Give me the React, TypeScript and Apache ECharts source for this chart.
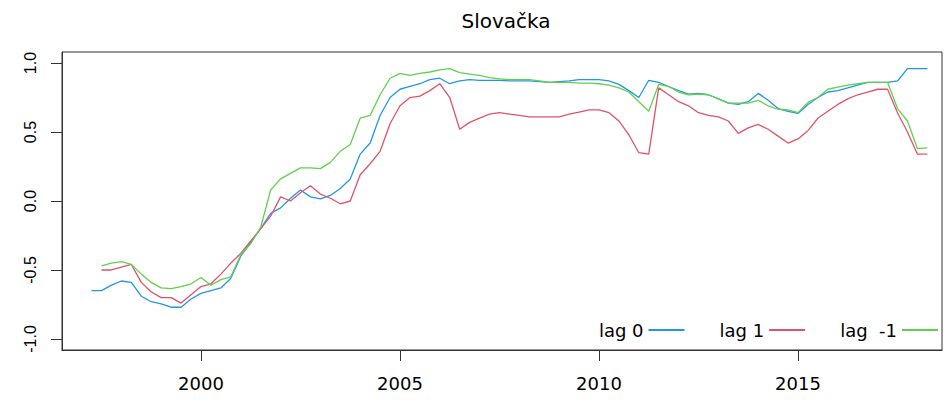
import React, { useEffect, useRef } from "react";
import * as echarts from "echarts";

const years = [
  1997.25, 1997.5, 1997.75, 1998.0, 1998.25, 1998.5, 1998.75, 1999.0, 1999.25, 1999.5, 1999.75,
  2000.0, 2000.25, 2000.5, 2000.75, 2001.0, 2001.25, 2001.5, 2001.75, 2002.0, 2002.25, 2002.5,
  2002.75, 2003.0, 2003.25, 2003.5, 2003.75, 2004.0, 2004.25, 2004.5, 2004.75, 2005.0, 2005.25,
  2005.5, 2005.75, 2006.0, 2006.25, 2006.5, 2006.75, 2007.0, 2007.25, 2007.5, 2007.75, 2008.0,
  2008.25, 2008.5, 2008.75, 2009.0, 2009.25, 2009.5, 2009.75, 2010.0, 2010.25, 2010.5, 2010.75,
  2011.0, 2011.25, 2011.5, 2011.75, 2012.0, 2012.25, 2012.5, 2012.75, 2013.0, 2013.25, 2013.5,
  2013.75, 2014.0, 2014.25, 2014.5, 2014.75, 2015.0, 2015.25, 2015.5, 2015.75, 2016.0, 2016.25,
  2016.5, 2016.75, 2017.0, 2017.25, 2017.5, 2017.75, 2018.0, 2018.25,
];

const lag0 = [
  -0.65, -0.65, -0.61, -0.58, -0.59, -0.69, -0.73, -0.745, -0.77, -0.77, -0.71,
  -0.67, -0.65, -0.63, -0.56, -0.4, -0.3, -0.2, -0.09, -0.05, 0.02, 0.08,
  0.03, 0.015, 0.04, 0.09, 0.16, 0.34, 0.42, 0.62, 0.75, 0.81, 0.83,
  0.85, 0.88, 0.89, 0.85, 0.87, 0.88, 0.875, 0.875, 0.875, 0.87, 0.87,
  0.87, 0.865, 0.86, 0.865, 0.87, 0.88, 0.88, 0.88, 0.87, 0.845, 0.8,
  0.75, 0.875, 0.86, 0.83, 0.8, 0.775, 0.78, 0.77, 0.74, 0.71, 0.7,
  0.72, 0.78, 0.73, 0.67, 0.65, 0.635, 0.7, 0.75, 0.79, 0.8, 0.82,
  0.84, 0.86, 0.86, 0.86, 0.87, 0.96, 0.96, 0.96,
];

const lag1 = [
  null, -0.5, -0.5, -0.48, -0.46, -0.59, -0.66, -0.7, -0.7, -0.74, -0.68,
  -0.62, -0.6, -0.53, -0.45, -0.38, -0.29, -0.2, -0.11, 0.03, 0.0, 0.06,
  0.11, 0.05, 0.02, -0.02, 0.0, 0.19, 0.27, 0.36, 0.56, 0.69, 0.75,
  0.76, 0.8, 0.85, 0.75, 0.52, 0.57, 0.6, 0.63, 0.64, 0.63, 0.62,
  0.61, 0.61, 0.61, 0.61, 0.63, 0.645, 0.66, 0.66, 0.64, 0.58, 0.48,
  0.35, 0.34, 0.82, 0.77, 0.72, 0.69, 0.64, 0.62, 0.61, 0.58, 0.49,
  0.53, 0.555, 0.52, 0.47, 0.42, 0.45, 0.51, 0.6, 0.65, 0.7, 0.74,
  0.77, 0.79, 0.81, 0.81, 0.64, 0.5, 0.34, 0.34,
];

const lagM1 = [
  null, -0.47, -0.45, -0.44, -0.46, -0.53, -0.59, -0.63, -0.635, -0.62, -0.6,
  -0.555, -0.61, -0.57, -0.55, -0.39, -0.31, -0.19, 0.08, 0.16, 0.2, 0.24,
  0.24, 0.235, 0.28, 0.36, 0.41, 0.6, 0.62, 0.77, 0.89, 0.925, 0.91,
  0.925, 0.935, 0.95, 0.96, 0.93, 0.92, 0.91, 0.895, 0.885, 0.88, 0.88,
  0.88, 0.87, 0.86, 0.86, 0.86, 0.855, 0.855, 0.85, 0.84, 0.82, 0.79,
  0.72, 0.65, 0.845, 0.83, 0.79, 0.77, 0.775, 0.77, 0.74, 0.71, 0.71,
  0.71, 0.73, 0.69, 0.665, 0.66, 0.64, 0.715, 0.75, 0.81, 0.825, 0.84,
  0.85, 0.86, 0.86, 0.86, 0.67, 0.58, 0.38, 0.385,
];

const seriesNames = ["lag 0", "lag 1", "lag  -1"];
const seriesColors = ["#2297E6", "#DF536B", "#61D04F"];
const xTicks = [2000, 2005, 2010, 2015];
const yTicks = [-1, -0.5, 0, 0.5, 1];
const title = "Slovačka";

const FONT_Y = "'Liberation Sans', Arial, sans-serif";
const FONT_H = "'DejaVu Sans', 'Liberation Sans', sans-serif";

export default function App() {
  const ref = useRef<HTMLDivElement>(null);

  useEffect(() => {
    document.body.style.margin = "0";
    if (!ref.current) return;
    const chart = echarts.init(ref.current, undefined, { renderer: "svg" });
    const all = [lag0, lag1, lagM1];
    chart.setOption({
      animation: false,
      backgroundColor: "#ffffff",
      textStyle: { fontFamily: FONT_H },
      grid: {
        left: 62,
        right: 10,
        top: 52,
        bottom: 53,
        show: true,
        borderColor: "#333",
        borderWidth: 1,
        containLabel: false,
      },
      graphic: [
        {
          type: "text",
          x: 506,
          y: 21,
          style: {
            text: title,
            font: `20px ${FONT_H}`,
            fill: "#000",
            textAlign: "center",
            textVerticalAlign: "middle",
          },
        },
      ],
      legend: {
        data: seriesNames,
        right: 9,
        top: 316,
        orient: "horizontal",
        align: "right",
        icon: "rect",
        itemWidth: 36,
        itemHeight: 2,
        itemGap: 35,
        textStyle: { fontSize: 18, color: "#000", fontFamily: FONT_H },
      },
      xAxis: {
        type: "value",
        min: 1996.508,
        max: 2018.618,
        axisLine: { show: true, onZero: false, lineStyle: { color: "#333" } },
        axisTick: { show: true, length: 11, customValues: xTicks, lineStyle: { color: "#333" } },
        axisLabel: {
          customValues: xTicks,
          margin: 24,
          fontSize: 18,
          color: "#000",
          fontFamily: FONT_H,
          formatter: (v: number) => String(v),
        },
        splitLine: { show: false },
      },
      yAxis: {
        type: "value",
        min: -1.08,
        max: 1.08,
        axisLine: { show: true, lineStyle: { color: "#333" } },
        axisTick: { show: true, length: 11, customValues: yTicks, lineStyle: { color: "#333" } },
        axisLabel: {
          customValues: yTicks,
          rotate: 90,
          margin: 24,
          fontSize: 16,
          color: "#000",
          fontFamily: FONT_Y,
          formatter: (v: number) => v.toFixed(1),
        },
        splitLine: { show: false },
      },
      series: all.map((vals, k) => ({
        name: seriesNames[k],
        type: "line",
        symbol: "none",
        color: seriesColors[k],
        lineStyle: { width: 1.3, color: seriesColors[k] },
        data: years.map((y, i) => [y, vals[i]]),
        connectNulls: false,
      })),
    });
    return () => chart.dispose();
  }, []);

  return (
    <div
      ref={ref}
      style={{ position: "absolute", left: 0, top: 0, width: 952, height: 403 }}
    />
  );
}
